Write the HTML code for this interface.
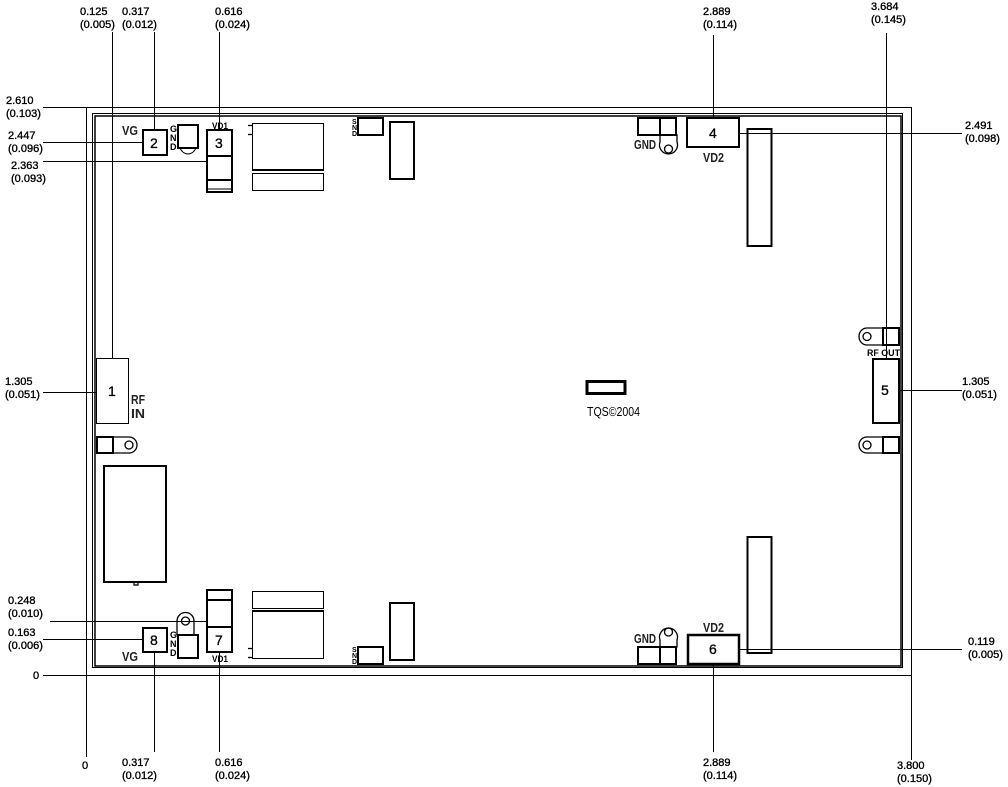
<!DOCTYPE html>
<html><head><meta charset="utf-8"><style>
html,body{margin:0;padding:0;background:#fff;}
svg{display:block;}
text{font-family:"Liberation Sans",sans-serif;font-size:11px;fill:#000;}
.d{stroke:#000;stroke-width:0.35px;}
.sm{font-size:9px;font-weight:bold;}
.lb{font-size:13px;fill:#222;font-weight:bold;}
.pn{font-size:14px;stroke:#000;stroke-width:0.3px;}
</style></head><body>
<svg width="1008" height="787" viewBox="0 0 1008 787" xmlns="http://www.w3.org/2000/svg">
<g fill="none" stroke="#000" stroke-width="1">
<line x1="43" y1="107.5" x2="911" y2="107.5"/>
<line x1="86.5" y1="107" x2="86.5" y2="757"/>
<line x1="911.5" y1="107" x2="911.5" y2="760"/>
<line x1="43" y1="675.5" x2="911" y2="675.5"/>
<rect x="92.5" y="113.5" width="810" height="554"/>
<rect x="95" y="116" width="806" height="550" stroke-width="1.5"/>
<line x1="112.5" y1="32" x2="112.5" y2="358"/>
<line x1="154.5" y1="32" x2="154.5" y2="129"/>
<line x1="219.5" y1="32" x2="219.5" y2="129"/>
<line x1="713.5" y1="35" x2="713.5" y2="118"/>
<line x1="886.5" y1="33" x2="886.5" y2="359"/>
<line x1="43" y1="142.5" x2="142" y2="142.5"/>
<line x1="43" y1="161.5" x2="207" y2="161.5"/>
<line x1="43" y1="392.5" x2="96" y2="392.5"/>
<line x1="50" y1="621.5" x2="207" y2="621.5"/>
<line x1="43" y1="639.5" x2="142" y2="639.5"/>
<line x1="739" y1="133.5" x2="962" y2="133.5"/>
<line x1="899" y1="390.5" x2="962" y2="390.5"/>
<line x1="739" y1="649.5" x2="962" y2="649.5"/>
<line x1="154.5" y1="652" x2="154.5" y2="752"/>
<line x1="219.5" y1="652" x2="219.5" y2="752"/>
<line x1="713.5" y1="664" x2="713.5" y2="752"/>
</g>
<g fill="none" stroke="#000" stroke-width="2">
<rect x="143" y="130" width="24" height="25"/>
<rect x="178" y="125" width="20" height="23"/>
<path d="M180 148 A9 11 0 0 0 196 148" stroke-width="1"/>
<rect x="207" y="130" width="25" height="62"/>
<line x1="207" y1="156" x2="232" y2="156"/>
<line x1="207" y1="180" x2="232" y2="180"/>
<line x1="207" y1="189" x2="232" y2="189" stroke-width="1"/>
<rect x="252.5" y="123.5" width="71" height="46" stroke-width="1"/>
<line x1="252" y1="170" x2="324" y2="170"/>
<rect x="252.5" y="173.5" width="71" height="17" stroke-width="1"/>
<rect x="358" y="118" width="25" height="17"/>
<rect x="390" y="122" width="24" height="57"/>
<rect x="143" y="628" width="24" height="24"/>
<rect x="178" y="635" width="20" height="23"/>
<rect x="207" y="590" width="25" height="62"/>
<line x1="207" y1="600" x2="232" y2="600"/>
<line x1="207" y1="627" x2="232" y2="627"/>
<rect x="252.5" y="591.5" width="71" height="17" stroke-width="1"/>
<line x1="252" y1="611" x2="324" y2="611"/>
<rect x="252.5" y="611.5" width="71" height="47" stroke-width="1"/>
<rect x="358" y="647" width="25" height="17"/>
<rect x="390" y="603" width="24" height="57"/>
<rect x="96.5" y="358.5" width="32" height="65" stroke-width="1"/>
<rect x="97" y="437" width="16" height="16"/>
<rect x="104" y="466" width="62" height="116"/>
<rect x="638" y="118" width="38" height="17"/>
<line x1="660" y1="118" x2="660" y2="135"/>
<rect x="687" y="118" width="52" height="29"/>
<rect x="747.5" y="129" width="24" height="117"/>
<rect x="638" y="647" width="38" height="17"/>
<line x1="660" y1="647" x2="660" y2="664"/>
<rect x="688" y="635" width="51" height="29" stroke-width="2.5"/>
<rect x="747.5" y="537" width="24" height="116"/>
<rect x="883" y="328" width="16" height="17"/>
<rect x="873" y="359" width="26" height="64"/>
<rect x="883" y="437" width="16" height="16"/>
<rect x="587" y="381.5" width="38" height="12" stroke-width="3"/>
</g>
<g fill="none" stroke="#000" stroke-width="1.3">
<path d="M660 142 A9 9 0 1 0 677 142 L677 135 L660 135 Z"/>
<circle cx="668.5" cy="149" r="4"/>
<path d="M660 640 A9 9 0 1 1 677 640 L677 647 L660 647 Z"/>
<circle cx="668.5" cy="632" r="4"/>
<path d="M867 328 A8 8.5 0 1 0 867 345 L883 345 L883 328 Z"/>
<circle cx="867" cy="336.5" r="4"/>
<path d="M867 437 A8 8 0 1 0 867 453 L883 453 L883 437 Z"/>
<circle cx="867" cy="445" r="4"/>
<path d="M113 437 L129 437 A8 8 0 1 1 129 453 L113 453"/>
<circle cx="129" cy="445" r="4"/>
<path d="M177 635 L177 621 A8 8 0 1 1 194 621 L194 635"/>
<circle cx="185.5" cy="621" r="4"/>
<line x1="248" y1="125.5" x2="252" y2="125.5"/>
<line x1="248" y1="134.5" x2="252" y2="134.5"/>
<line x1="248" y1="648.5" x2="252" y2="648.5"/>
<line x1="248" y1="657.5" x2="252" y2="657.5"/>
<rect x="134" y="582" width="4" height="3"/>
</g>
<text class="pn" x="150" y="148">2</text>
<text class="pn" x="215" y="148">3</text>
<text class="pn" x="108" y="396">1</text>
<text class="pn" x="150" y="645">8</text>
<text class="pn" x="215" y="645">7</text>
<text class="pn" x="709" y="138">4</text>
<text class="pn" x="709" y="654">6</text>
<text class="pn" x="881" y="395">5</text>
<text class="lb" x="122" y="135" textLength="16" lengthAdjust="spacingAndGlyphs">VG</text>
<text class="lb" x="122" y="661" textLength="16" lengthAdjust="spacingAndGlyphs">VG</text>
<text class="sm" x="212" y="129" textLength="16" lengthAdjust="spacingAndGlyphs">VD1</text>
<text class="sm" x="212" y="662" textLength="16" lengthAdjust="spacingAndGlyphs">VD1</text>
<text class="sm" x="170" y="132">G</text><text class="sm" x="170" y="141">N</text><text class="sm" x="170" y="150">D</text>
<text class="sm" x="170" y="638">G</text><text class="sm" x="170" y="647">N</text><text class="sm" x="170" y="656">D</text>
<text class="sm" x="352" y="124" style="font-size:7px">S</text><text class="sm" x="352" y="130" style="font-size:7px">N</text><text class="sm" x="352" y="136" style="font-size:7px">D</text>
<text class="sm" x="352" y="652" style="font-size:7px">S</text><text class="sm" x="352" y="658" style="font-size:7px">N</text><text class="sm" x="352" y="664" style="font-size:7px">D</text>
<text class="lb" x="131" y="404" textLength="14" lengthAdjust="spacingAndGlyphs">RF</text>
<text class="lb" x="131" y="418" textLength="14" lengthAdjust="spacingAndGlyphs">IN</text>
<text class="lb" x="634" y="149" textLength="22" lengthAdjust="spacingAndGlyphs">GND</text>
<text class="lb" x="634" y="643" textLength="22" lengthAdjust="spacingAndGlyphs">GND</text>
<text class="lb" x="703" y="162" textLength="21" lengthAdjust="spacingAndGlyphs">VD2</text>
<text class="lb" x="703" y="632" textLength="21" lengthAdjust="spacingAndGlyphs">VD2</text>
<text class="sm" x="867" y="356" textLength="33" lengthAdjust="spacingAndGlyphs">RF OUT</text>
<text class="lb" x="587" y="416" style="font-weight:normal;fill:#000" textLength="53" lengthAdjust="spacingAndGlyphs">TQS©2004</text>
<g class="d">
<text x="80" y="15">0.125</text><text x="80" y="28">(0.005)</text>
<text x="122" y="15">0.317</text><text x="122" y="28">(0.012)</text>
<text x="215" y="15">0.616</text><text x="215" y="28">(0.024)</text>
<text x="703" y="15">2.889</text><text x="703" y="28">(0.114)</text>
<text x="871" y="10">3.684</text><text x="871" y="23">(0.145)</text>
<text x="6" y="104">2.610</text><text x="6" y="117">(0.103)</text>
<text x="8" y="139">2.447</text><text x="8" y="152">(0.096)</text>
<text x="11" y="169">2.363</text><text x="11" y="182">(0.093)</text>
<text x="5" y="385">1.305</text><text x="5" y="398">(0.051)</text>
<text x="8" y="604">0.248</text><text x="8" y="617">(0.010)</text>
<text x="8" y="636">0.163</text><text x="8" y="649">(0.006)</text>
<text x="33" y="679">0</text>
<text x="965" y="129">2.491</text><text x="965" y="142">(0.098)</text>
<text x="962" y="385">1.305</text><text x="962" y="398">(0.051)</text>
<text x="968" y="645">0.119</text><text x="968" y="658">(0.005)</text>
<text x="82" y="769">0</text>
<text x="122" y="766">0.317</text><text x="122" y="779">(0.012)</text>
<text x="215" y="766">0.616</text><text x="215" y="779">(0.024)</text>
<text x="703" y="766">2.889</text><text x="703" y="779">(0.114)</text>
<text x="897" y="769">3.800</text><text x="897" y="782">(0.150)</text>
</g>
</svg>
</body></html>
